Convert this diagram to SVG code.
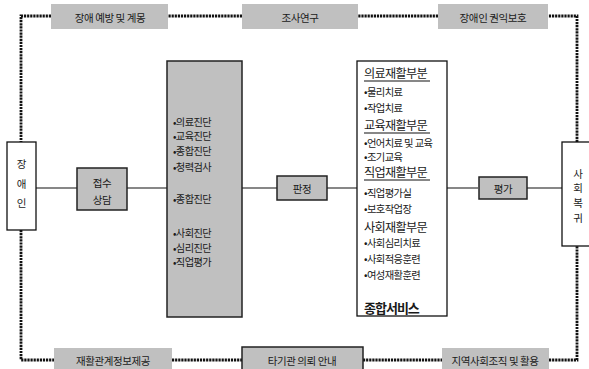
<svg xmlns="http://www.w3.org/2000/svg" width="589" height="369" viewBox="0 0 589 369">
<style>
text{font-family:"Noto Sans CJK KR","Noto Sans",sans-serif;fill:#1a1a1a;dominant-baseline:central}
.lbl{font-size:10.5px;text-anchor:middle;letter-spacing:-0.4px}
.b{font-size:10.3px;letter-spacing:-0.6px}
.bm{font-size:10.2px;letter-spacing:-0.6px}
.h{font-size:12.2px;letter-spacing:-0.7px}
.gray{fill:#c0c0c0}
.box{stroke:#222;stroke-width:1.5}
.wbox{fill:#fff;stroke:#111;stroke-width:1.3}
.dot{fill:none;stroke:#111;stroke-width:2.8;stroke-dasharray:2.2 0.9}
.ln{stroke:#111;stroke-width:1.2;fill:none}
</style>
<g id="connectors">
<path class="dot" d="M51 16H21V142M21 230V360H54M172 360H242M363 360H442M549 360H577V246M577 142V16H548M438 16H358M242 16H168"/>
<path class="ln" d="M36 188H77M127 188H167M242 188H277M327 188H357M447 188H478M527 188H562"/>
</g>
<g id="n-prevent"><rect class="gray" x="51" y="4" width="117" height="25"/><text class="lbl" x="110" y="17">장애 예방 및 계몽</text></g>
<g id="n-research"><rect class="gray" x="242" y="4" width="116" height="25"/><text class="lbl" x="300" y="17">조사연구</text></g>
<g id="n-rights"><rect class="gray" x="438" y="4" width="110" height="25"/><text class="lbl" x="493" y="17">장애인 권익보호</text></g>
<g id="n-info"><rect class="gray" x="54" y="348" width="118" height="21"/><text class="lbl" x="113" y="360">재활관계정보제공</text></g>
<g id="n-refer"><rect class="gray box" x="242" y="347" width="121" height="24"/><text class="lbl" x="302" y="360">타기관 의뢰 안내</text></g>
<g id="n-community"><rect class="gray" x="442" y="348" width="107" height="21"/><text class="lbl" x="495" y="360">지역사회조직 및 활용</text></g>
<g id="n-disabled"><rect class="wbox" x="7" y="142" width="29" height="88"/><text class="lbl" x="21.5" y="163">장</text><text class="lbl" x="21.5" y="183">애</text><text class="lbl" x="21.5" y="202">인</text></g>
<g id="n-intake"><rect class="gray box" x="77" y="168" width="50" height="42"/><text class="lbl" x="102" y="182">접수</text><text class="lbl" x="102" y="199">상담</text></g>
<g id="n-diag"><rect class="gray box" x="167" y="61" width="75" height="256"/>
<text class="bm" x="173" y="121">•의료진단</text><text class="bm" x="173" y="135">•교육진단</text><text class="bm" x="173" y="150">•종합진단</text><text class="bm" x="173" y="166">•청력검사</text>
<text class="bm" x="173" y="198">•종합진단</text>
<text class="bm" x="173" y="232">•사회진단</text><text class="bm" x="173" y="247">•심리진단</text><text class="bm" x="173" y="261">•직업평가</text></g>
<g id="n-judge"><rect class="gray box" x="277" y="176" width="50" height="24"/><text class="lbl" x="302" y="188">판정</text></g>
<g id="n-services"><rect class="wbox" x="357" y="61" width="90" height="255"/>
<text class="h" x="364" y="73">의료재활부분</text>
<line class="ln" x1="364" y1="81" x2="430" y2="81"/>
<text class="b" x="364" y="91">•물리치료</text><text class="b" x="364" y="107">•작업치료</text>
<text class="h" x="364" y="125">교육재활부문</text>
<line class="ln" x1="364" y1="133" x2="430" y2="133"/>
<text class="b" x="364" y="142">•언어치료 및 교육</text><text class="b" x="364" y="156.5">•조기교육</text>
<text class="h" x="364" y="172">직업재활부문</text>
<line class="ln" x1="364" y1="180" x2="430" y2="180"/>
<text class="b" x="364" y="192">•직업평가실</text><text class="b" x="364" y="208">•보호작업장</text>
<text class="h" x="364" y="226.5">사회재활부문</text>
<text class="b" x="364" y="242.5">•사회심리치료</text><text class="b" x="364" y="258">•사회적응훈련</text><text class="b" x="364" y="274">•여성재활훈련</text>
<text class="h" x="364" y="307" style="font-weight:bold;font-size:13px;letter-spacing:-1px">종합서비스</text></g>
<g id="n-eval"><rect class="gray box" x="479" y="177" width="48" height="22"/><text class="lbl" x="503" y="188">평가</text></g>
<g id="n-return"><rect class="wbox" x="562" y="142" width="40" height="104"/><text class="lbl" x="578" y="173">사</text><text class="lbl" x="578" y="187">회</text><text class="lbl" x="578" y="202">복</text><text class="lbl" x="578" y="217">귀</text></g>
</svg>
